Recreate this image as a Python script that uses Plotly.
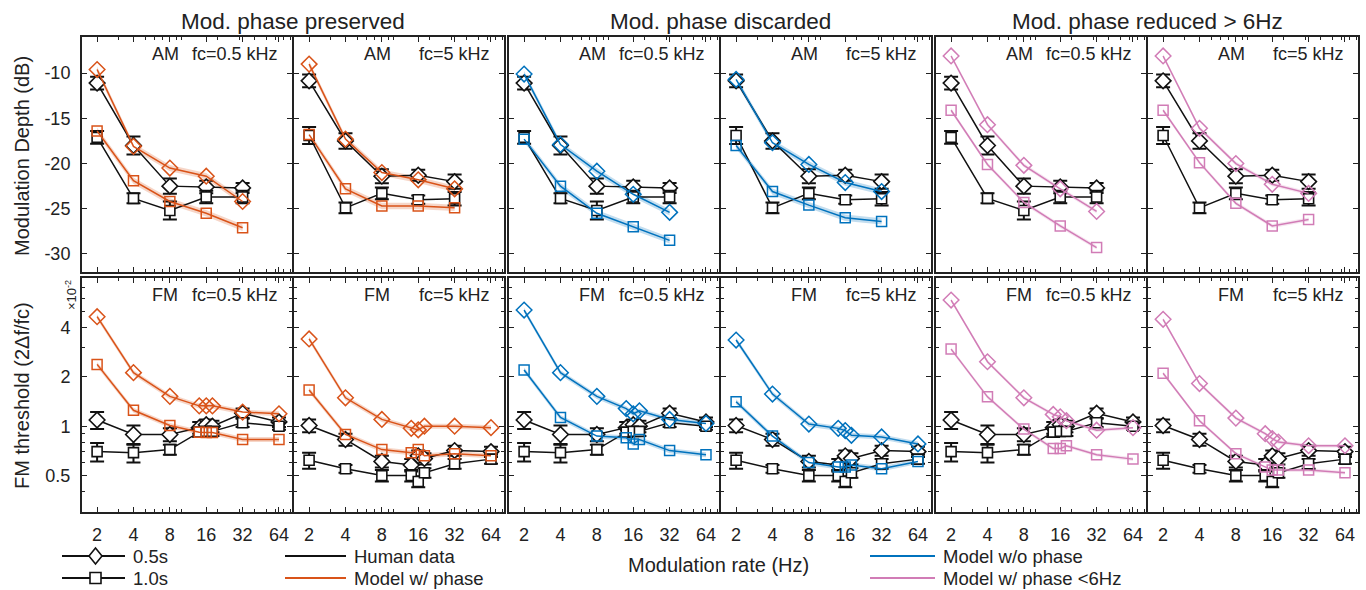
import math
import plotly.graph_objects as go

W, H = 1366, 590
FONT = "Liberation Sans, Arial, Helvetica, sans-serif"

ORANGE = "#D95319"
BLUE = "#0072BD"
PINK = "#D17CB6"
BAND = {ORANGE: "rgba(217,83,25,0.24)", BLUE: "rgba(0,114,189,0.24)", PINK: "rgba(209,124,182,0.20)"}

# ---- modulation rates (Hz) ----
AM_RATES = [2, 4, 8, 16, 32]
FM_RATES = [2, 4, 8, 14, 16, 18, 32, 64]

# ---- human thresholds: AM in dB, FM in units of 1e-2 (mean, standard error) ----
AM05_HUMAN_05S = [-11.1, -18.0, -22.5, -22.6, -22.7]
AM05_HUMAN_05S_SE = [0.7, 1.0, 0.85, 0.7, 0.55]
AM05_HUMAN_10S = [-17.1, -23.85, -25.2, -23.7, -23.7]
AM05_HUMAN_10S_SE = [0.7, 0.55, 1.0, 0.7, 0.7]
AM5_HUMAN_05S = [-10.85, -17.5, -21.4, -21.3, -22.0]
AM5_HUMAN_05S_SE = [0.7, 0.85, 0.78, 0.6, 0.8]
AM5_HUMAN_10S = [-16.9, -24.9, -23.3, -24.0, -23.9]
AM5_HUMAN_10S_SE = [0.93, 0.6, 0.65, 0.46, 0.74]

FM05_HUMAN_05S = [1.09, 0.89, 0.89, 0.98, 1.02, 1.0, 1.2, 1.06]
FM05_HUMAN_05S_SE = [0.13, 0.12, 0.08, 0.08, 0.08, 0.08, 0.08, 0.07]
FM05_HUMAN_10S = [0.70, 0.69, 0.72, 0.92, 0.93, 0.93, 1.05, 1.0]
FM05_HUMAN_10S_SE = [0.09, 0.09, 0.05, 0.06, 0.06, 0.06, 0.06, 0.05]
FM5_HUMAN_05S = [1.01, 0.83, 0.61, 0.58, 0.66, 0.635, 0.71, 0.70]
FM5_HUMAN_05S_SE = [0.09, 0.07, 0.05, 0.05, 0.05, 0.05, 0.05, 0.05]
FM5_HUMAN_10S = [0.62, 0.55, 0.50, 0.50, 0.46, 0.52, 0.59, 0.63]
FM5_HUMAN_10S_SE = [0.07, 0.03, 0.04, 0.04, 0.035, 0.035, 0.04, 0.04]

# ---- model with modulation phase ----
AM05_PHASE_05S = [-9.6, -18.1, -20.5, -21.4, -24.2]
AM05_PHASE_10S = [-16.4, -21.9, -24.2, -25.5, -27.1]
AM5_PHASE_05S = [-9.0, -17.3, -21.0, -21.8, -22.8]
AM5_PHASE_10S = [-16.8, -22.8, -24.7, -24.7, -24.9]
FM05_PHASE_05S = [4.65, 2.12, 1.52, 1.33, 1.33, 1.33, 1.22, 1.19]
FM05_PHASE_10S = [2.38, 1.25, 1.01, 0.92, 0.915, 0.915, 0.83, 0.83]
FM5_PHASE_05S = [3.4, 1.49, 1.10, 0.97, 0.95, 1.0, 1.0, 0.98]
FM5_PHASE_10S = [1.66, 0.89, 0.72, 0.69, 0.72, 0.66, 0.68, 0.66]

# ---- model without modulation phase ----
AM05_NOPH_05S = [-10.1, -17.9, -20.85, -23.4, -25.4]
AM05_NOPH_10S = [-17.3, -22.5, -25.5, -27.0, -28.5]
AM5_NOPH_05S = [-10.7, -17.7, -20.1, -22.1, -23.1]
AM5_NOPH_10S = [-18.0, -23.1, -24.6, -26.0, -26.4]
FM05_NOPH_05S = [5.1, 2.12, 1.52, 1.28, 1.19, 1.24, 1.10, 1.04]
FM05_NOPH_10S = [2.2, 1.13, 0.87, 0.85, 0.78, 0.83, 0.71, 0.67]
FM5_NOPH_05S = [3.35, 1.57, 1.03, 0.97, 0.94, 0.88, 0.86, 0.78]
FM5_NOPH_10S = [1.41, 0.87, 0.60, 0.565, 0.565, 0.58, 0.55, 0.61]

# ---- model with phase only below 6 Hz ----
AM05_LOWPH_05S = [-8.1, -15.7, -20.2, -22.8, -25.3]
AM05_LOWPH_10S = [-14.1, -20.1, -24.3, -26.9, -29.3]
AM5_LOWPH_05S = [-8.1, -16.1, -20.0, -22.3, -23.3]
AM5_LOWPH_10S = [-14.1, -19.9, -24.4, -26.9, -26.2]
FM05_LOWPH_05S = [5.87, 2.47, 1.49, 1.18, 1.14, 1.08, 0.945, 0.98]
FM05_LOWPH_10S = [2.95, 1.51, 0.96, 0.73, 0.73, 0.76, 0.67, 0.63]
FM5_LOWPH_05S = [4.48, 1.82, 1.12, 0.90, 0.84, 0.80, 0.76, 0.76]
FM5_LOWPH_10S = [2.1, 1.08, 0.68, 0.565, 0.54, 0.54, 0.54, 0.52]

# model uncertainty band: +/- dB for AM, relative for FM
AM_BAND_DB = {ORANGE: 0.35, BLUE: 0.35, PINK: 0.22}
FM_BAND_REL = {ORANGE: 0.035, BLUE: 0.035, PINK: 0.025}

COLUMN_TITLES = ["Mod. phase preserved", "Mod. phase discarded", "Mod. phase reduced > 6Hz"]
AM_TICKS = [-30, -25, -20, -15, -10]
FM_TICKS = [0.5, 1, 2, 4]
FM_MINOR = [0.3, 0.4, 0.6, 0.7, 0.8, 0.9, 3, 5, 6, 7, 8]
RATE_TICKS = [2, 4, 8, 16, 32, 64]
RATE_MINOR = [3, 5, 6, 7, 9, 10, 20, 30, 40, 50, 60, 70, 80]

# panel pixel boxes (neighbouring panels leave room for one shared 2px frame line)
COLS = [(82, 292), (294, 504), (509, 719), (721, 931), (936, 1146), (1148, 1358)]
ROWS = [(37, 272), (278, 512)]

human = {
    ("AM", 0): (AM05_HUMAN_05S, AM05_HUMAN_05S_SE, AM05_HUMAN_10S, AM05_HUMAN_10S_SE),
    ("AM", 1): (AM5_HUMAN_05S, AM5_HUMAN_05S_SE, AM5_HUMAN_10S, AM5_HUMAN_10S_SE),
    ("FM", 0): (FM05_HUMAN_05S, FM05_HUMAN_05S_SE, FM05_HUMAN_10S, FM05_HUMAN_10S_SE),
    ("FM", 1): (FM5_HUMAN_05S, FM5_HUMAN_05S_SE, FM5_HUMAN_10S, FM5_HUMAN_10S_SE),
}
models = [
    (ORANGE, {("AM", 0): (AM05_PHASE_05S, AM05_PHASE_10S), ("AM", 1): (AM5_PHASE_05S, AM5_PHASE_10S),
              ("FM", 0): (FM05_PHASE_05S, FM05_PHASE_10S), ("FM", 1): (FM5_PHASE_05S, FM5_PHASE_10S)}),
    (BLUE, {("AM", 0): (AM05_NOPH_05S, AM05_NOPH_10S), ("AM", 1): (AM5_NOPH_05S, AM5_NOPH_10S),
            ("FM", 0): (FM05_NOPH_05S, FM05_NOPH_10S), ("FM", 1): (FM5_NOPH_05S, FM5_NOPH_10S)}),
    (PINK, {("AM", 0): (AM05_LOWPH_05S, AM05_LOWPH_10S), ("AM", 1): (AM5_LOWPH_05S, AM5_LOWPH_10S),
            ("FM", 0): (FM05_LOWPH_05S, FM05_LOWPH_10S), ("FM", 1): (FM5_LOWPH_05S, FM5_LOWPH_10S)}),
]

fig = go.Figure()
layout = dict(
    width=W, height=H, margin=dict(l=0, r=0, t=0, b=0),
    paper_bgcolor="white", plot_bgcolor="white", showlegend=False,
    font=dict(family=FONT, size=18, color="#222"),
)
annotations, shapes = [], []


def px_x(v):
    return v / W


def px_y(v):
    return 1 - v / H


def label(text, x, y, size, angle=0, xanchor="center", yanchor="middle", **kw):
    return dict(text=text, x=x, y=y, textangle=angle, xanchor=xanchor, yanchor=yanchor,
                showarrow=False, font=dict(size=size, color="#222"), **kw)


for r, mod in enumerate(["AM", "FM"]):
    for c in range(6):
        k = r * 6 + c + 1
        sfx = "" if k == 1 else str(k)
        xa, ya = "x" + sfx, "y" + sfx
        fc = c % 2
        model_col, model_data = models[c // 2]
        rates = AM_RATES if mod == "AM" else FM_RATES
        d05m, d10m = model_data[(mod, fc)]

        # model uncertainty bands
        for series in (d05m, d10m):
            if mod == "AM":
                hi = [v + AM_BAND_DB[model_col] for v in series]
                lo = [v - AM_BAND_DB[model_col] for v in series]
            else:
                hi = [v * (1 + FM_BAND_REL[model_col]) for v in series]
                lo = [v * (1 - FM_BAND_REL[model_col]) for v in series]
            fig.add_trace(go.Scatter(x=rates + rates[::-1], y=hi + lo[::-1], fill="toself",
                                     fillcolor=BAND[model_col], line=dict(width=0),
                                     mode="lines", hoverinfo="skip", xaxis=xa, yaxis=ya))

        # human data with error bars
        d05, se05, d10, se10 = human[(mod, fc)]
        for vals, se, sym, size in [(d05, se05, "diamond", 12), (d10, se10, "square", 10)]:
            fig.add_trace(go.Scatter(
                x=rates, y=vals, mode="lines+markers", xaxis=xa, yaxis=ya,
                line=dict(color="#111", width=1.5),
                marker=dict(symbol=sym, size=size, color="white", line=dict(color="#111", width=1.6)),
                error_y=dict(type="data", array=se, color="#111", thickness=2, width=7),
            ))

        # model curves
        for series, sym, size in [(d05m, "diamond-open", 12), (d10m, "square-open", 10)]:
            fig.add_trace(go.Scatter(
                x=rates, y=series, mode="lines+markers", xaxis=xa, yaxis=ya,
                line=dict(color=model_col, width=1.5),
                marker=dict(symbol=sym, size=size, color=model_col, line=dict(width=1.5)),
            ))

        x0, x1 = COLS[c]
        y0, y1 = ROWS[r]
        layout["xaxis" + sfx] = dict(
            domain=[px_x(x0), px_x(x1)], anchor=ya, type="log",
            range=[math.log10(1.5), math.log10(82)],
            tickvals=RATE_TICKS, ticktext=[str(v) for v in RATE_TICKS],
            showticklabels=(r == 1), ticks="inside", ticklen=5, tickwidth=1.2, tickcolor="#222",
            minor=dict(tickvals=RATE_MINOR, ticks="inside", ticklen=3, tickcolor="#222"),
            showline=True, linecolor="#222", linewidth=2, mirror="ticks",
            showgrid=False, zeroline=False, tickfont=dict(size=18), ticklabelstandoff=5,
        )
        yax = dict(
            domain=[px_y(y1), px_y(y0)], anchor=xa,
            showticklabels=(c == 0), ticks="inside", ticklen=5, tickwidth=1.2, tickcolor="#222",
            showline=True, linecolor="#222", linewidth=2, mirror="ticks",
            showgrid=False, zeroline=False, tickfont=dict(size=18), ticklabelstandoff=6,
        )
        if mod == "AM":
            yax.update(range=[-32, -6], tickvals=AM_TICKS, ticktext=[str(v) for v in AM_TICKS])
        else:
            yax.update(type="log", range=[math.log10(0.3), math.log10(8)],
                       tickvals=FM_TICKS, ticktext=["0.5", "1", "2", "4"],
                       minor=dict(tickvals=FM_MINOR, ticks="inside", ticklen=3, tickcolor="#222"))
        layout["yaxis" + sfx] = yax

        # panel labels
        annotations.append(label(mod, 0.322, 0.928, 18, xanchor="left",
                                 xref=xa + " domain", yref=ya + " domain"))
        annotations.append(label("fc=0.5 kHz" if fc == 0 else "fc=5 kHz", 0.945, 0.928, 18,
                                 xanchor="right", xref=xa + " domain", yref=ya + " domain"))

# column titles
for i, t in enumerate(COLUMN_TITLES):
    cx = (COLS[2 * i][0] + COLS[2 * i + 1][1]) / 2
    annotations.append(label(t, px_x(cx), px_y(22), 22.5, xref="paper", yref="paper"))

# axis titles
annotations += [
    label("Modulation Depth (dB)", px_x(22), px_y(156), 20, angle=-90, xref="paper", yref="paper"),
    label("FM threshold (2\u0394f/fc)", px_x(22), px_y(396), 20, angle=-90, xref="paper", yref="paper"),
    label("\u00d710<sup>-2</sup>", px_x(71), px_y(295), 13, angle=-90, xref="paper", yref="paper"),
    label("Modulation rate (Hz)", px_x(718), px_y(565), 20, xref="paper", yref="paper"),
]

# legend
LEGEND_ITEMS = [
    (62, 125, 556, "#111", "diamond", "0.5s"),
    (62, 125, 578, "#111", "square", "1.0s"),
    (285, 346, 556, "#111", None, "Human data"),
    (285, 346, 578, ORANGE, None, "Model w/ phase"),
    (870, 935, 556, BLUE, None, "Model w/o phase"),
    (870, 935, 578, PINK, None, "Model w/ phase <6Hz"),
]
for lx0, lx1, ly, col, mk, text in LEGEND_ITEMS:
    shapes.append(dict(type="line", xref="paper", yref="paper", x0=px_x(lx0), x1=px_x(lx1),
                       y0=px_y(ly), y1=px_y(ly), line=dict(color=col, width=2)))
    if mk == "diamond":
        path = "M 0 8 L 6.5 0 L 0 -8 L -6.5 0 Z"
    elif mk == "square":
        path = "M -5.5 -5.5 L 5.5 -5.5 L 5.5 5.5 L -5.5 5.5 Z"
    else:
        path = None
    if path:
        shapes.append(dict(type="path", xref="paper", yref="paper", xsizemode="pixel",
                           ysizemode="pixel", xanchor=px_x((lx0 + lx1) / 2 + 2), yanchor=px_y(ly),
                           path=path, fillcolor="white", line=dict(color=col, width=1.6)))
    annotations.append(label(text, px_x(lx1 + 6), px_y(ly), 18.5, xanchor="left",
                             xref="paper", yref="paper"))

layout["annotations"] = annotations
layout["shapes"] = shapes
fig.update_layout(**layout)
fig.write_html("out.html")
